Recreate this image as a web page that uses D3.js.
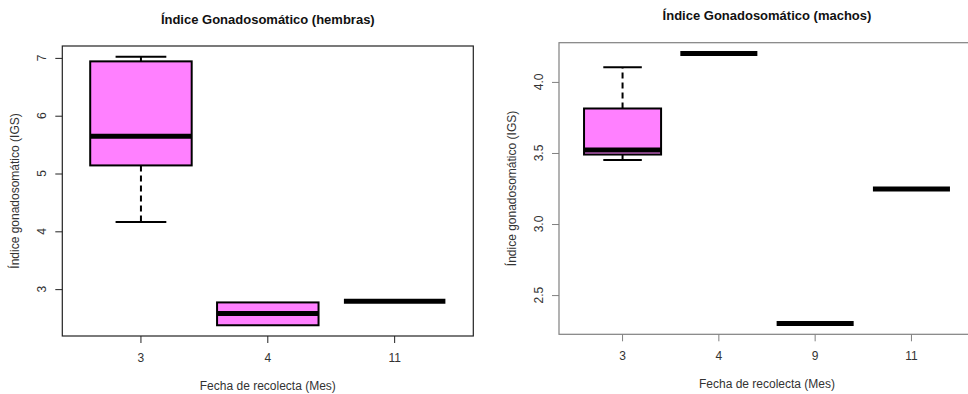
<!DOCTYPE html>
<html><head><meta charset="utf-8">
<script src="https://cdn.jsdelivr.net/npm/d3@7"></script>
<style>
html,body{margin:0;padding:0;background:#fff;}
svg{display:block;font-family:"Liberation Sans",Arial,sans-serif;}
</style></head>
<body>
<svg id="c" width="968" height="394"></svg>
<script>
// ---- Data ----
const femaleMonths = ["3", "4", "11"];
const femaleMin    = [4.16, 2.375, 2.79];
const femaleQ1     = [5.14, 2.375, 2.79];
const femaleMedian = [5.645, 2.58, 2.79];
const femaleQ3     = [6.94, 2.77, 2.79];
const femaleMax    = [7.02, 2.77, 2.79];
const femaleTicks  = [3, 4, 5, 6, 7];

const maleMonths = ["3", "4", "9", "11"];
const maleMin    = [3.45, 4.2, 2.3, 3.247];
const maleQ1     = [3.489, 4.2, 2.3, 3.247];
const maleMedian = [3.521, 4.2, 2.3, 3.247];
const maleQ3     = [3.813, 4.2, 2.3, 3.247];
const maleMax    = [4.104, 4.2, 2.3, 3.247];
const maleTicks  = [2.5, 3.0, 3.5, 4.0];

const titles = ["Índice Gonadosomático (hembras)", "Índice Gonadosomático (machos)"];
const xTitle = "Fecha de recolecta (Mes)";
const yTitle = "Índice gonadosomático (IGS)";

const svg = d3.select("#c");
const fill = "#FF80FF";

function panel(cfg) {
  const {months, mn, q1, med, q3, mx, ticks, fmt, x0, x1, y0, y1, title, frameColor, titleY} = cfg;
  const n = months.length;
  const g = svg.append("g");
  const W = x1 - x0;
  const step = W / (n * 1.08);
  const x = d3.scaleBand().domain(months)
    .range([x0 + 0.04 * n * step, x1 - 0.04 * n * step])
    .paddingInner(0.2).paddingOuter(0.1);
  const lo = d3.min(mn), hi = d3.max(mx), r = hi - lo;
  const y = d3.scaleLinear().domain([lo - 0.04 * r, hi + 0.04 * r]).range([y1, y0]);

  // axes
  const ax = g.append("g").attr("transform", `translate(0,${y1})`)
    .call(d3.axisBottom(x).tickSize(7).tickSizeOuter(0).tickFormat(""));
  ax.select(".domain").remove();
  ax.selectAll("line").attr("stroke", frameColor);
  const ay = g.append("g").attr("transform", `translate(${x0},0)`)
    .call(d3.axisLeft(y).tickValues(ticks).tickSize(7).tickFormat(""));
  ay.select(".domain").remove();
  ay.selectAll("line").attr("stroke", frameColor);

  // tick labels
  g.selectAll(".xl").data(months).join("text")
    .attr("x", d => x(d) + x.bandwidth() / 2).attr("y", y1 + 26)
    .attr("text-anchor", "middle").attr("font-size", 12).attr("fill", "#333").text(d => d);
  g.selectAll(".yl").data(ticks).join("text")
    .attr("transform", d => `translate(${x0 - 16},${y(d)}) rotate(-90)`)
    .attr("text-anchor", "middle").attr("font-size", 12).attr("fill", "#333").text(d => fmt(d));

  // boxes
  months.forEach((m, i) => {
    const cx = x(m) + x.bandwidth() / 2, bw = x.bandwidth();
    const wl = bw / 2;
    // whiskers
    g.append("line").attr("x1", cx).attr("x2", cx).attr("y1", y(q3[i])).attr("y2", y(mx[i]))
      .attr("stroke", "#000").attr("stroke-width", 2).attr("stroke-dasharray", "6,4");
    g.append("line").attr("x1", cx).attr("x2", cx).attr("y1", y(q1[i])).attr("y2", y(mn[i]))
      .attr("stroke", "#000").attr("stroke-width", 2).attr("stroke-dasharray", "6,4");
    if (mx[i] > q3[i])
      g.append("line").attr("x1", cx - wl / 2).attr("x2", cx + wl / 2).attr("y1", y(mx[i])).attr("y2", y(mx[i]))
        .attr("stroke", "#000").attr("stroke-width", 2);
    if (mn[i] < q1[i])
      g.append("line").attr("x1", cx - wl / 2).attr("x2", cx + wl / 2).attr("y1", y(mn[i])).attr("y2", y(mn[i]))
        .attr("stroke", "#000").attr("stroke-width", 2);
    // box
    g.append("rect").attr("x", x(m)).attr("width", bw)
      .attr("y", y(q3[i])).attr("height", Math.max(0, y(q1[i]) - y(q3[i])))
      .attr("fill", fill).attr("stroke", "#000").attr("stroke-width", 2);
    // median
    g.append("line").attr("x1", x(m)).attr("x2", x(m) + bw).attr("y1", y(med[i])).attr("y2", y(med[i]))
      .attr("stroke", "#000").attr("stroke-width", 5);
  });

  // frame
  g.append("rect").attr("x", x0).attr("y", y0).attr("width", W).attr("height", y1 - y0)
    .attr("fill", "none").attr("stroke", frameColor).attr("stroke-width", 1.2);

  // titles
  const cxp = (x0 + x1) / 2;
  g.append("text").attr("x", cxp).attr("y", titleY).attr("text-anchor", "middle")
    .attr("font-size", 13).attr("font-weight", "bold").attr("fill", "#111").text(title);
  g.append("text").attr("x", cxp).attr("y", y1 + 54).attr("text-anchor", "middle")
    .attr("font-size", 12).attr("fill", "#333").text(xTitle);
  g.append("text").attr("transform", `translate(${x0 - 43},${(y0 + y1) / 2}) rotate(-90)`)
    .attr("text-anchor", "middle").attr("font-size", 12).attr("fill", "#333").text(yTitle);
}

panel({months: femaleMonths, mn: femaleMin, q1: femaleQ1, med: femaleMedian, q3: femaleQ3, mx: femaleMax,
  ticks: femaleTicks, fmt: d3.format("d"), x0: 62.3, x1: 473.3, y0: 46, y1: 336,
  title: titles[0], frameColor: "#222", titleY: 23.5});
panel({months: maleMonths, mn: maleMin, q1: maleQ1, med: maleMedian, q3: maleQ3, mx: maleMax,
  ticks: maleTicks, fmt: d3.format(".1f"), x0: 559, x1: 975, y0: 42.7, y1: 334.3,
  title: titles[1], frameColor: "#808080", titleY: 19.5});
</script>
</body></html>
